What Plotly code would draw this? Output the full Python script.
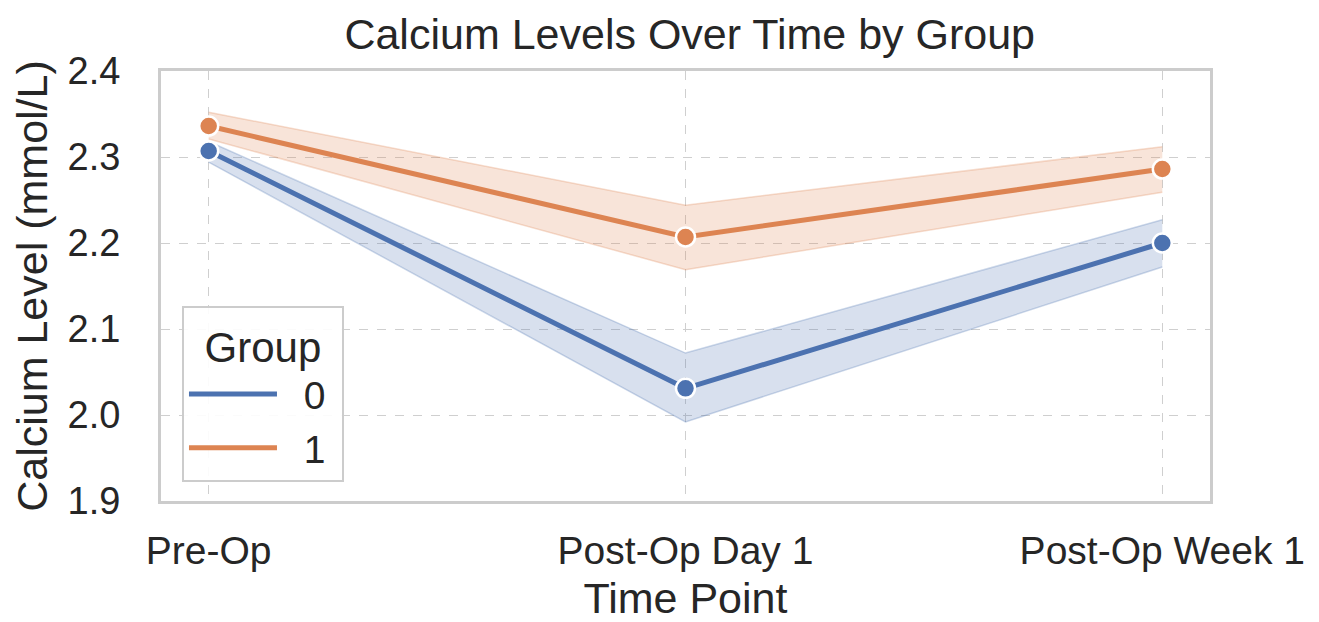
import plotly.graph_objects as go

time_points = ["Pre-Op", "Post-Op Day 1", "Post-Op Week 1"]
groups = ["0", "1"]
mean_g0 = [2.307, 2.031, 2.200]
lower_g0 = [2.294, 1.992, 2.172]
upper_g0 = [2.318, 2.072, 2.227]
mean_g1 = [2.336, 2.207, 2.286]
lower_g1 = [2.321, 2.169, 2.259]
upper_g1 = [2.352, 2.244, 2.312]
y_ticks = [1.9, 2.0, 2.1, 2.2, 2.3, 2.4]

colors = ["#4C72B0", "#DD8452"]
fills = ["rgba(76,114,176,0.22)", "rgba(221,132,82,0.22)"]
edges = ["rgba(76,114,176,0.28)", "rgba(221,132,82,0.28)"]

FONT = "Liberation Sans, Arial, sans-serif"
fig = go.Figure()
x_idx = list(range(len(time_points)))

series = [(mean_g0, lower_g0, upper_g0), (mean_g1, lower_g1, upper_g1)]
for i, (m, lo, up) in enumerate(series):
    fig.add_trace(go.Scatter(x=x_idx, y=up, mode="lines",
                             line=dict(color=edges[i], width=1.5),
                             showlegend=False, hoverinfo="skip"))
    fig.add_trace(go.Scatter(x=x_idx, y=lo, mode="lines", fill="tonexty",
                             fillcolor=fills[i],
                             line=dict(color=edges[i], width=1.5),
                             showlegend=False, hoverinfo="skip"))
for i, (m, lo, up) in enumerate(series):
    fig.add_trace(go.Scatter(x=x_idx, y=m, mode="lines",
                             name="\u00a0\u00a0" + groups[i] + "\u00a0",
                             line=dict(color=colors[i], width=5)))
for i, (m, lo, up) in enumerate(series):
    fig.add_trace(go.Scatter(x=x_idx, y=m, mode="markers", showlegend=False,
                             marker=dict(color=colors[i], size=19,
                                         line=dict(color="white", width=2.5))))

# page body has an 8px margin, so the figure is sized/offset to compensate
fig.update_layout(
    width=1311, height=614,
    paper_bgcolor="white", plot_bgcolor="white",
    margin=dict(l=153, r=109, t=63, b=121),
    font=dict(family=FONT, color="#262626"),
    title=dict(text="Calcium Levels Over Time by Group", x=0.52, xanchor="center",
               yref="container", y=0.957, yanchor="middle",
               font=dict(size=43, color="#262626")),
    xaxis=dict(tickmode="array", tickvals=x_idx, ticktext=time_points,
               range=[-0.1, 2.1], showgrid=True, gridcolor="#cfcfcf",
               griddash="dash", gridwidth=1, zeroline=False, automargin=False,
               showline=True, linecolor="#cccccc", linewidth=3, mirror=True,
               ticks="", tickfont=dict(size=39), ticklabelstandoff=13,
               title=dict(text="Time Point", font=dict(size=43), standoff=16)),
    yaxis=dict(tickmode="array", tickvals=y_ticks,
               ticktext=[f"{v:.1f}" for v in y_ticks],
               range=[1.9, 2.4], showgrid=True, gridcolor="#cfcfcf",
               griddash="dash", gridwidth=1, zeroline=False, automargin=False,
               showline=True, linecolor="#cccccc", linewidth=3, mirror=True,
               ticks="", tickfont=dict(size=38), ticklabelstandoff=30,
               title=dict(text="Calcium Level (mmol/L)", font=dict(size=43), standoff=10)),
    legend=dict(x=0.02, y=0.045, xanchor="left", yanchor="bottom",
                traceorder="normal",
                bgcolor="rgba(255,255,255,0.9)", bordercolor="#cccccc", borderwidth=2,
                title=dict(text="Group", font=dict(size=42), side="top center"),
                font=dict(size=39), itemwidth=88),
)

fig.write_html("out.html")
